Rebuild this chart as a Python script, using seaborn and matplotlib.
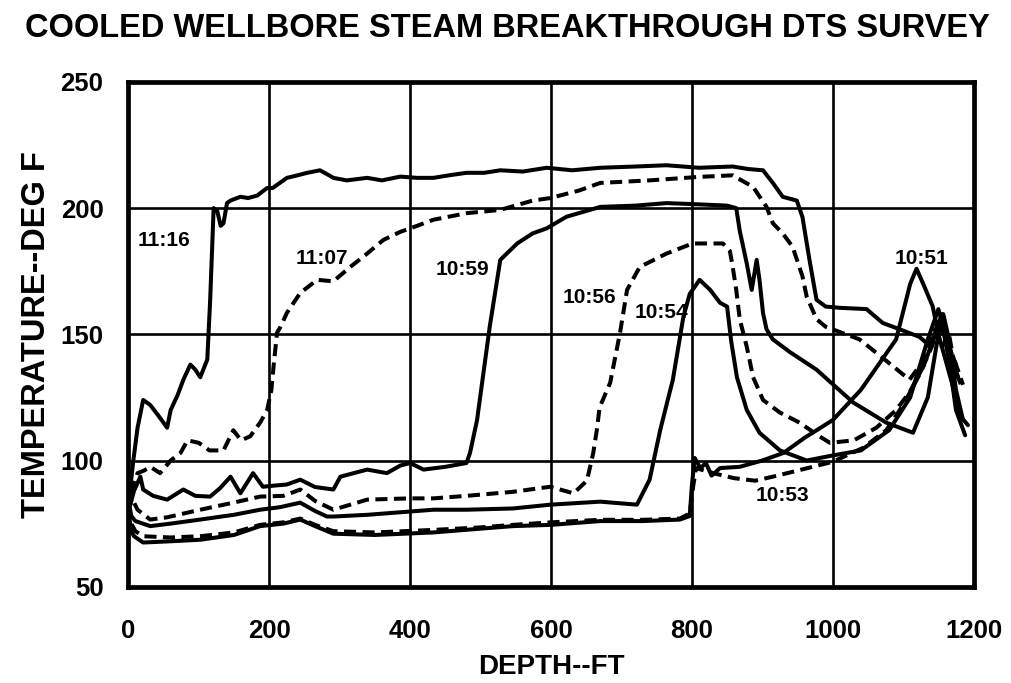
import numpy as np
import pandas as pd
import matplotlib
matplotlib.use("Agg")
import matplotlib.pyplot as plt
import seaborn as sns

# DTS temperature traces (depth in ft, temperature in deg F), one per survey time
t1116_depth = [0, 3, 7, 13, 21, 31, 42, 55, 60, 70, 78, 88, 95, 102, 112, 116, 119, 121, 126,
               131, 135, 140, 145, 159, 170, 183, 197, 205, 215, 225, 240, 254, 272, 285, 291,
               310, 339, 360, 386, 410, 433, 455, 480, 505, 528, 560, 594, 630, 670, 720, 764,
               810, 858, 880, 901, 915, 929, 949, 957, 967, 977, 990, 1010, 1048, 1071, 1095,
               1123, 1140, 1150, 1158, 1165, 1175, 1188]
t1116_temp = [82, 90, 100, 113, 124, 122, 118, 113, 120, 126, 132, 138, 136, 133, 140, 163, 185,
              200, 199, 193, 194, 202, 203, 204.5, 204, 205, 208, 208, 210, 212, 213, 214, 215,
              213, 212, 211, 212, 211, 212.5, 212, 212, 213, 214, 214, 215, 214.5, 216, 215, 216,
              216.5, 217, 216, 216.5, 215.5, 215, 210, 204.5, 203, 196.5, 179.5, 163.7, 161,
              160.5, 160, 154.5, 152, 149, 145, 155, 150, 140, 120, 110]

t1107_depth = [0, 5, 13, 22, 31, 45, 60, 74, 84, 100, 115, 135, 149, 160, 173, 187, 197, 203,
               206, 211, 216, 225, 244, 268, 291, 315, 339, 362, 386, 410, 433, 480, 528, 574,
               599, 640, 670, 740, 811, 858, 887, 906, 915, 929, 943, 957, 963, 977, 990, 1038,
               1085, 1109, 1130, 1145, 1155, 1165, 1175, 1185]
t1107_temp = [80, 88, 95, 96, 97.5, 95, 100, 103, 108, 107, 104, 104, 112, 108, 109.6, 115, 120,
              128, 137, 150.6, 153, 158.5, 166.4, 171.6, 171, 176.7, 182, 187.4, 190.6, 193,
              195.4, 198, 199.3, 203, 204, 207, 210, 211, 212.4, 213, 208.4, 200.5, 194, 190,
              184.7, 173, 165, 156, 153, 148, 137.5, 132, 140, 152, 145, 150, 135, 128]

t1059_depth = [0, 8, 17, 21, 35, 55, 78, 95, 116, 130, 145, 159, 177, 191, 205, 225, 244, 265,
               291, 301, 339, 367, 386, 400, 419, 450, 480, 485, 495, 513, 528, 552, 574, 594,
               622, 670, 720, 764, 810, 850, 863, 868, 878, 885, 892, 896, 901, 906, 915, 939,
               977, 1029, 1076, 1114, 1135, 1150, 1160, 1170, 1180, 1192]
t1059_temp = [80, 88, 93.6, 88.5, 86, 84.5, 88.5, 86, 85.7, 89, 93.6, 87, 95, 89.6, 90, 90.5,
              92.4, 89.5, 88.5, 93.6, 96.4, 95, 98, 99, 96.4, 97.5, 99, 103, 116, 153, 179.5,
              186, 190, 192, 196.6, 200.5, 201, 202, 201.5, 201, 200, 191, 178, 167.6, 179.5,
              171.6, 158.5, 152, 148, 143, 136, 123, 115, 111, 125, 150, 140, 130, 118, 114]

t1056_depth = [0, 5, 13, 31, 55, 102, 149, 187, 220, 244, 265, 291, 339, 400, 433, 480, 546,
               599, 632, 651, 660, 665, 669, 684, 698, 708, 726, 764, 801, 844, 854, 858, 863,
               868, 878, 887, 901, 925, 953, 981, 996, 1030, 1062, 1090, 1109, 1130, 1145, 1155,
               1165, 1175]
t1056_temp = [80, 85, 80.5, 76.6, 77.5, 80.5, 83.3, 85.7, 86, 88.5, 84, 80.5, 84.5, 85, 85, 86,
              87.6, 89.6, 87, 92, 103, 112, 121, 130.8, 150.6, 167.6, 176.7, 182, 186, 186, 183,
              176.7, 167.6, 156, 145, 133, 124, 119, 115, 109.6, 107, 108, 113, 120, 127, 138,
              150, 158, 145, 138]

t1054_depth = [0, 4, 10, 31, 60, 102, 150, 187, 215, 244, 265, 282, 291, 340, 433, 480, 546,
               599, 670, 722, 740, 755, 773, 788, 797, 811, 826, 840, 850, 856, 864, 878, 896,
               925, 963, 1000, 1040, 1080, 1110, 1135, 1150, 1160, 1170, 1178]
t1054_temp = [85, 78, 76, 74, 75, 76.6, 78.5, 80.5, 81.5, 83.3, 80, 77.8, 77.8, 78.5, 80.5, 80.5,
              81, 82.5, 83.7, 82.5, 92.4, 112, 132, 157, 166, 171.6, 167.6, 162.5, 161, 147, 133,
              120, 111, 104, 100, 102, 104, 112, 125, 148, 160, 150, 140, 133]

t1053_depth = [0, 4, 10, 21, 60, 102, 150, 187, 220, 244, 265, 291, 350, 433, 500, 546, 600,
               670, 730, 783, 797, 802, 806, 830, 860, 890, 915, 950, 1000, 1043, 1076, 1100,
               1125, 1145, 1155, 1165, 1175, 1185]
t1053_temp = [82, 75, 72, 70, 69.5, 70, 71.5, 74.5, 75.5, 77, 74.5, 72, 71.5, 72.5, 73.5, 74.5,
              75.5, 76.5, 76.5, 77, 79, 90, 97, 95, 93, 92, 93.6, 96, 99.5, 105, 112, 122, 135,
              148, 155, 145, 138, 130]

t1051_depth = [0, 4, 8, 21, 60, 102, 150, 187, 220, 244, 265, 291, 350, 433, 500, 546, 600,
               670, 730, 783, 797, 800, 804, 812, 820, 828, 840, 868, 900, 930, 960, 1000, 1040,
               1090, 1110, 1119, 1130, 1142, 1150, 1157, 1165, 1175, 1185]
t1051_temp = [80, 72, 70, 67.5, 68, 68.6, 70.5, 74, 75, 76.6, 74, 71, 70.5, 71.5, 73, 74, 74.5,
              76, 76, 76.6, 78, 90, 101, 97, 99, 94, 97, 97.5, 100, 103, 109, 116, 128, 148, 170,
              176, 169, 161, 150, 158, 148, 128, 116]

times = ["11:16", "11:07", "10:59", "10:56", "10:54", "10:53", "10:51"]
dashed = {"11:16": False, "11:07": True, "10:59": False, "10:56": True,
          "10:54": False, "10:53": True, "10:51": False}
series = {
    "11:16": (t1116_depth, t1116_temp),
    "11:07": (t1107_depth, t1107_temp),
    "10:59": (t1059_depth, t1059_temp),
    "10:56": (t1056_depth, t1056_temp),
    "10:54": (t1054_depth, t1054_temp),
    "10:53": (t1053_depth, t1053_temp),
    "10:51": (t1051_depth, t1051_temp),
}

# curve annotations: (depth, temperature) of label centre
label_pos = {"11:16": (50, 187), "11:07": (275, 180), "10:59": (474, 175.5),
             "10:56": (655, 164.5), "10:54": (757, 158.5), "10:53": (929, 86),
             "10:51": (1126, 180)}

x_ticks = [0, 200, 400, 600, 800, 1000, 1200]
y_ticks = [50, 100, 150, 200, 250]

frames = []
for t in times:
    d, v = series[t]
    frames.append(pd.DataFrame({"depth": d, "temp": v, "time": t}))
df = pd.concat(frames, ignore_index=True)

sns.set_theme(style="white")
plt.rcParams["font.family"] = ["Liberation Sans", "DejaVu Sans"]
plt.rcParams["font.weight"] = "bold"
plt.rcParams["text.color"] = "black"
plt.rcParams["axes.labelcolor"] = "black"
plt.rcParams["xtick.color"] = "black"
plt.rcParams["ytick.color"] = "black"

fig = plt.figure(figsize=(10.11, 6.83), dpi=100)
ax = fig.add_axes([0.127, 0.141, 0.836, 0.739])

for t in times:
    sub = df[df["time"] == t]
    sns.lineplot(data=sub, x="depth", y="temp", ax=ax, color="black",
                 linewidth=2.9, estimator=None, sort=False, legend=False,
                 linestyle=(0, (3.0, 1.6)) if dashed[t] else "-")

for t in times:
    x, y = label_pos[t]
    ax.text(x, y, t, ha="center", va="center", fontsize=15, fontweight="bold",
            color="black")

ax.set_xlim(0, 1200)
ax.set_ylim(50, 250)
ax.set_xticks(x_ticks)
ax.set_yticks(y_ticks)
ax.grid(True, color="black", linewidth=1.9)
ax.set_axisbelow(True)
for s in ax.spines.values():
    s.set_color("black")
    s.set_linewidth(3.4)
ax.tick_params(axis="both", which="major", direction="out", length=7, width=2.4,
               color="black", labelcolor="black", labelsize=18.5, pad=16)
ax.tick_params(axis="y", pad=11)
for lab in ax.get_xticklabels() + ax.get_yticklabels():
    lab.set_fontweight("bold")

ax.set_xlabel("DEPTH--FT", fontsize=20, fontweight="bold", labelpad=8, color="black")
ax.set_ylabel("TEMPERATURE--DEG F", fontsize=23.5, fontweight="bold", labelpad=6,
              color="black")

fig.text(0.502, 0.958, "COOLED WELLBORE STEAM BREAKTHROUGH DTS SURVEY",
         ha="center", va="center", fontsize=23.5, fontweight="bold", color="black")

fig.savefig("out.png", dpi=100, facecolor="white")
